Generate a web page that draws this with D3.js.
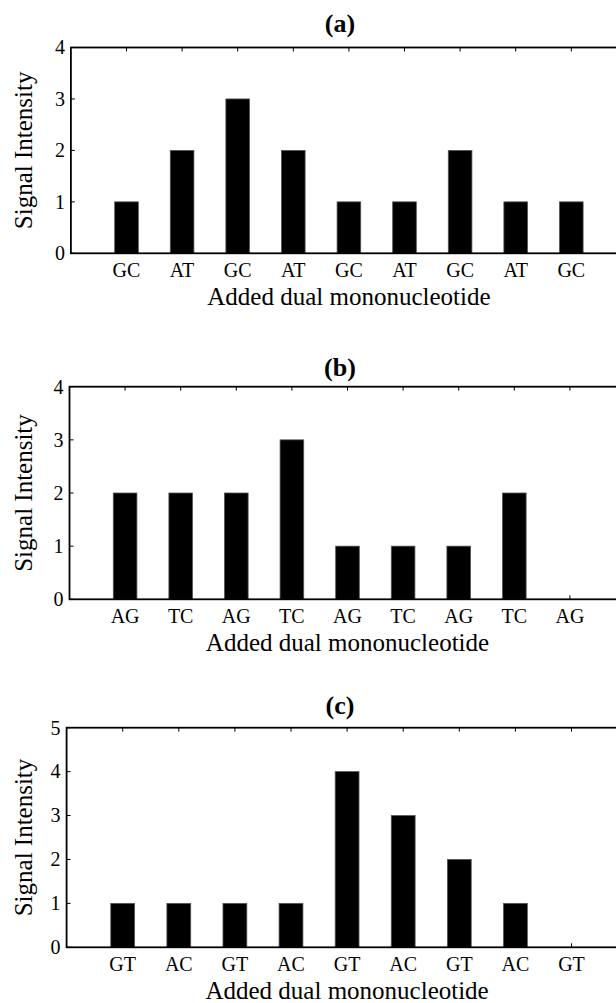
<!DOCTYPE html>
<html>
<head>
<meta charset="utf-8">
<script src="https://cdn.jsdelivr.net/npm/d3@7"></script>
<style>
  html, body { margin: 0; padding: 0; background: #fff; }
  svg { display: block; }
</style>
</head>
<body>
<svg id="fig" width="616" height="1003"></svg>
<script>
// Signal intensity per added dual mononucleotide, three runs
const titles = ["(a)", "(b)", "(c)"];

const categoriesA = ["GC", "AT", "GC", "AT", "GC", "AT", "GC", "AT", "GC"];
const valuesA     = [1, 2, 3, 2, 1, 1, 2, 1, 1];

const categoriesB = ["AG", "TC", "AG", "TC", "AG", "TC", "AG", "TC", "AG"];
const valuesB     = [2, 2, 2, 3, 1, 1, 1, 2, 0];

const categoriesC = ["GT", "AC", "GT", "AC", "GT", "AC", "GT", "AC", "GT"];
const valuesC     = [1, 1, 1, 1, 4, 3, 2, 1, 0];

const yTicksAB = [0, 1, 2, 3, 4];
const yTicksC  = [0, 1, 2, 3, 4, 5];

const xLabel = "Added dual mononucleotide";
const yLabel = "Signal Intensity";

const serif = "'Liberation Serif', 'Times New Roman', Times, 'DejaVu Serif', serif";

// Panel frames (pixel layout of each axes box)
const frames = [
  { left: 70.9, unit: 55.6, top: 47.5,  bottom: 253.3, titleY: 32.3 },
  { left: 69.5, unit: 55.6, top: 386.7, bottom: 599.3, titleY: 375.6 },
  { left: 66.6, unit: 56.1, top: 727.7, bottom: 947.3, titleY: 713.6 }
];

const panels = [
  { title: titles[0], cats: categoriesA, vals: valuesA, yTicks: yTicksAB },
  { title: titles[1], cats: categoriesB, vals: valuesB, yTicks: yTicksAB },
  { title: titles[2], cats: categoriesC, vals: valuesC, yTicks: yTicksC }
];

const svg = d3.select("#fig");
const barFrac = 0.425;
const tickLen = 4;

panels.forEach((p, k) => {
  const f = frames[k];
  const n = p.cats.length;
  const xMax = n + 1;
  const yMax = d3.max(p.yTicks);

  const x = d3.scaleLinear().domain([0, xMax]).range([f.left, f.left + f.unit * xMax]);
  const y = d3.scaleLinear().domain([0, yMax]).range([f.bottom, f.top]);

  const g = svg.append("g")
    .attr("font-family", serif)
    .attr("fill", "#000");
  const positions = d3.range(1, n + 1);

  // bars
  g.selectAll("rect.bar")
    .data(p.vals)
    .join("rect")
    .attr("class", "bar")
    .attr("x", (d, i) => x(positions[i] - barFrac / 2))
    .attr("width", (d, i) => x(positions[i] + barFrac / 2) - x(positions[i] - barFrac / 2))
    .attr("y", d => y(d))
    .attr("height", d => y(0) - y(d))
    .attr("fill", "#000")
    .attr("stroke", "#555")
    .attr("stroke-width", 0.8);

  // inward ticks on bottom, top and left edges
  const tickPath = [];
  positions.forEach(v => {
    tickPath.push(`M${x(v)},${y(0)}V${y(0) - tickLen}`);
    tickPath.push(`M${x(v)},${y(yMax)}V${y(yMax) + tickLen}`);
  });
  p.yTicks.forEach(v => {
    tickPath.push(`M${x(0)},${y(v)}H${x(0) + tickLen}`);
  });
  g.append("path")
    .attr("d", tickPath.join(""))
    .attr("stroke", "#000")
    .attr("stroke-width", 1)
    .attr("fill", "none");

  // axes box (right side falls beyond the canvas)
  g.append("rect")
    .attr("x", x(0))
    .attr("y", y(yMax))
    .attr("width", x(xMax) - x(0))
    .attr("height", y(0) - y(yMax))
    .attr("fill", "none")
    .attr("stroke", "#000")
    .attr("stroke-width", 1.8);

  // x tick labels
  g.selectAll("text.xt")
    .data(p.cats)
    .join("text")
    .attr("class", "xt")
    .attr("x", (d, i) => x(positions[i]))
    .attr("y", y(0) + 24)
    .attr("text-anchor", "middle")
    .attr("font-size", 20)
    .text(d => d);

  // y tick labels
  g.selectAll("text.yt")
    .data(p.yTicks)
    .join("text")
    .attr("class", "yt")
    .attr("x", x(0) - 6)
    .attr("y", d => y(d))
    .attr("dy", "0.34em")
    .attr("text-anchor", "end")
    .attr("font-size", 20)
    .text(d => d);

  // title
  g.append("text")
    .attr("x", 340)
    .attr("y", f.titleY)
    .attr("text-anchor", "middle")
    .attr("font-size", 26)
    .attr("font-weight", "bold")
    .text(p.title);

  // x axis label
  g.append("text")
    .attr("x", x(xMax / 2))
    .attr("y", y(0) + 52)
    .attr("text-anchor", "middle")
    .attr("font-size", 25)
    .text(xLabel);

  // y axis label
  const yc = (y(0) + y(yMax)) / 2;
  g.append("text")
    .attr("transform", `translate(32,${yc}) rotate(-90)`)
    .attr("text-anchor", "middle")
    .attr("font-size", 25)
    .text(yLabel);
});
</script>
</body>
</html>
